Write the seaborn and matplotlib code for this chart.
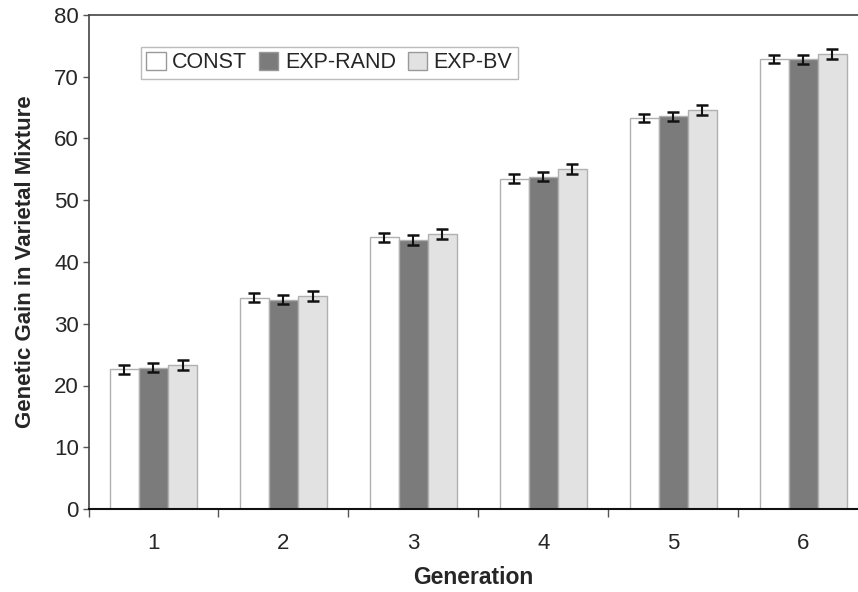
import matplotlib
matplotlib.use("Agg")
import matplotlib.pyplot as plt
import matplotlib.patches as mpatches
from matplotlib.ticker import FixedLocator
import numpy as np
import pandas as pd
import seaborn as sns

generations = ["1", "2", "3", "4", "5", "6"]
series = ["CONST", "EXP-RAND", "EXP-BV"]
const_vals = [22.6, 34.2, 44.0, 53.5, 63.3, 72.9]
exp_rand_vals = [22.9, 33.9, 43.6, 53.8, 63.6, 72.8]
exp_bv_vals = [23.3, 34.5, 44.6, 55.1, 64.6, 73.7]
const_err = [0.7, 0.7, 0.7, 0.7, 0.7, 0.7]
exp_rand_err = [0.7, 0.7, 0.8, 0.7, 0.7, 0.7]
exp_bv_err = [0.8, 0.8, 0.8, 0.8, 0.8, 0.8]

colors = {"CONST": "#ffffff", "EXP-RAND": "#7b7b7b", "EXP-BV": "#e2e2e2"}

df = pd.DataFrame({
    "Generation": generations * 3,
    "Series": [s for s in series for _ in generations],
    "Value": const_vals + exp_rand_vals + exp_bv_vals,
    "Err": const_err + exp_rand_err + exp_bv_err,
})

sns.set_style("white")
plt.rcParams["font.family"] = ["Liberation Sans", "DejaVu Sans"]

fig = plt.figure(figsize=(8.58, 5.92), dpi=100)
ax = fig.add_axes([88.5 / 858, 1 - 509 / 592, 769.5 / 858, 494 / 592])

sns.barplot(data=df, x="Generation", y="Value", hue="Series", hue_order=series,
            order=generations, palette=colors, errorbar=None, width=0.67,
            edgecolor="#b0b0b0", linewidth=1.0, saturation=1, ax=ax, legend=False)

# error bars at each bar centre
for container, s in zip(ax.containers, series):
    sub = df[df["Series"] == s].set_index("Generation").loc[generations]
    xs = [p.get_x() + p.get_width() / 2 for p in container.patches]
    ax.errorbar(xs, sub["Value"], yerr=sub["Err"], fmt="none", ecolor="#111111",
                elinewidth=1.5, capsize=4, capthick=1.8, zorder=5)

ax.set_xlim(-0.5, 5.42)
ax.set_ylim(0, 80)
ax.set_yticks(range(0, 81, 10))
ax.tick_params(axis="y", labelsize=16, length=4, width=1, color="#555555",
               direction="out", left=True, pad=3)
ax.tick_params(axis="x", which="major", labelsize=16, length=0, pad=17)
ax.xaxis.set_minor_locator(FixedLocator(np.arange(-0.5, 6, 1.0)))
ax.tick_params(axis="x", which="minor", length=6, width=1, color="#555555",
               direction="out", bottom=True)

for side in ["left", "top"]:
    ax.spines[side].set_color("#444444")
    ax.spines[side].set_linewidth(1.2)
ax.spines["right"].set_visible(False)
ax.spines["bottom"].set_color("#111111")
ax.spines["bottom"].set_linewidth(1.5)

ax.set_xlabel("Generation", fontsize=16.5, fontweight="bold", labelpad=9)
ax.set_ylabel("Genetic Gain in Varietal Mixture", fontsize=16,
              fontweight="bold", labelpad=13)

handles = [mpatches.Patch(facecolor=colors[s], edgecolor="#999999", label=s)
           for s in series]
leg = ax.legend(handles=handles, ncol=3, loc="upper left",
                bbox_to_anchor=(0.068, 0.936), fontsize=15.5, frameon=True,
                fancybox=False, edgecolor="#aaaaaa", handlelength=0.9,
                handleheight=0.9, handletextpad=0.3, columnspacing=0.55,
                borderpad=0.25, borderaxespad=0)
leg.get_frame().set_linewidth(1.0)

fig.savefig("out.png", dpi=100)
